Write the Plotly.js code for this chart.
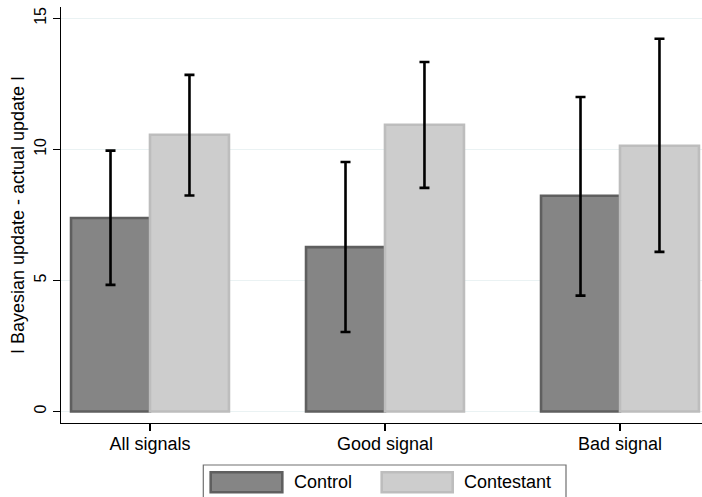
<!DOCTYPE html>
<html><head><meta charset="utf-8">
<script src="https://cdn.plot.ly/plotly-3.0.1.min.js"></script>
<style>html,body{margin:0;padding:0;background:#fff}</style>
</head><body><div id="chart" style="width:702px;height:497px"></div>
<script>
const categories = ["All signals", "Good signal", "Bad signal"];
const seriesNames = ["Control", "Contestant"];
const controlMean = [7.38, 6.27, 8.23];
const controlLow = [4.83, 3.03, 4.42];
const controlHigh = [9.95, 9.52, 12.0];
const contestantMean = [10.56, 10.94, 10.14];
const contestantLow = [8.24, 8.53, 6.09];
const contestantHigh = [12.84, 13.33, 14.22];
const yTicks = [0, 5, 10, 15];
const yTitle = "I Bayesian update - actual update I";

const fills = ["#858585", "#cdcdcd"];
const outlines = ["#5f5f5f", "#bdbdbd"];

function errArrays(mean, lo, hi) {
  return {
    type: "data", symmetric: false,
    array: hi.map((h, i) => h - mean[i]),
    arrayminus: lo.map((l, i) => mean[i] - l),
    color: "#000", thickness: 2.6, width: 5
  };
}

const means = [controlMean, contestantMean];
const lows = [controlLow, contestantLow];
const highs = [controlHigh, contestantHigh];

const traces = seriesNames.map((name, k) => ({
  type: "bar", name: name, x: categories, y: means[k],
  marker: {color: fills[k], line: {color: outlines[k], width: 2.6}},
  error_y: errArrays(means[k], lows[k], highs[k]),
  hoverinfo: "skip"
}));

const W = 702, H = 497, ML = 61, MR = 0, MT = 7, MB = 74;
const pw = W - ML - MR, ph = H - MT - MB;
const px = x => (x - ML) / pw;
const py = y => (H - MB - y) / ph;

const keyX = [[210.7, 282.3], [381.7, 452.7]];
const textX = [292, 462];
const shapes = [
  {type: "rect", xref: "paper", yref: "paper", x0: px(203.3), x1: px(566), y0: py(465), y1: py(505),
   line: {color: "#707070", width: 1.2}, fillcolor: "rgba(0,0,0,0)"}
];
const annotations = [];
seriesNames.forEach((name, k) => {
  shapes.push({type: "rect", xref: "paper", yref: "paper", x0: px(keyX[k][0]), x1: px(keyX[k][1]),
    y0: py(472.3), y1: py(492.3), line: {color: outlines[k], width: 2.6}, fillcolor: fills[k]});
  annotations.push({xref: "paper", yref: "paper", x: px(textX[k]), y: py(482), text: name,
    showarrow: false, xanchor: "left", yanchor: "middle", font: {size: 18, color: "#000"}});
});

const layout = {
  width: W, height: H,
  margin: {l: ML, r: MR, t: MT, b: MB, pad: 0},
  paper_bgcolor: "#fff", plot_bgcolor: "#fff",
  font: {family: "Liberation Sans, Arial, sans-serif", color: "#000", size: 18},
  barmode: "group", bargap: 0.328, bargroupgap: 0,
  showlegend: false,
  xaxis: {type: "category", range: [-0.3787, 2.349], showline: true, linecolor: "#000", linewidth: 1.3,
    ticks: "outside", ticklen: 7, tickwidth: 1.3, tickcolor: "#000", showgrid: false, zeroline: false,
    tickfont: {size: 18}, ticklabelstandoff: -3, fixedrange: true},
  yaxis: {range: [-0.439, 15.431], tickvals: yTicks, ticktext: yTicks.map(String), showline: true,
    linecolor: "#000", linewidth: 1.3, ticks: "outside", ticklen: 7, tickwidth: 1.3, tickcolor: "#000",
    tickangle: -90, tickfont: {size: 16}, showgrid: true, gridcolor: "#eaf2f3", gridwidth: 1.3,
    zeroline: false, fixedrange: true,
    title: {text: yTitle, font: {size: 18}, standoff: 3}},
  shapes: shapes, annotations: annotations
};

Plotly.newPlot("chart", traces, layout, {staticPlot: true, displayModeBar: false});
</script></body></html>
